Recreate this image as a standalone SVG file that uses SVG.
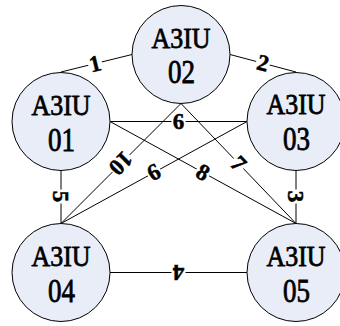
<svg xmlns="http://www.w3.org/2000/svg" width="340" height="326" viewBox="0 0 340 326">
<style>
.edge{stroke:#000;stroke-width:1;fill:none}
.node circle{fill:#e8edf7;stroke:#000;stroke-width:1}
.t1{font-family:"Liberation Serif",serif;font-size:30px;text-anchor:middle;fill:#000;stroke:#000;stroke-width:0.8}
.t2{font-family:"Liberation Serif",serif;font-size:33px;text-anchor:middle;fill:#000;stroke:#000;stroke-width:0.8}
.lbl rect{fill:#fff}
.lbl text{font-family:"Liberation Serif",serif;font-weight:bold;font-size:23px;text-anchor:middle;fill:#000;stroke:#000;stroke-width:0.5}
</style>
<rect width="340" height="326" fill="#fff"/>
<g id="connectors">
<line class="edge" x1="61" y1="72" x2="132" y2="54.5"/>
<line class="edge" x1="230" y1="54.5" x2="296" y2="72"/>
<line class="edge" x1="296" y1="170" x2="296" y2="223.5"/>
<line class="edge" x1="110" y1="272.5" x2="247" y2="272.5"/>
<line class="edge" x1="61" y1="170.5" x2="61" y2="223.5"/>
<line class="edge" x1="110" y1="121.5" x2="247" y2="121.5"/>
<line class="edge" x1="181" y1="103.5" x2="296" y2="223.5"/>
<line class="edge" x1="110" y1="121.5" x2="296" y2="223.5"/>
<line class="edge" x1="247" y1="121.5" x2="61" y2="223.5"/>
<line class="edge" x1="181" y1="103.5" x2="61" y2="223.5"/>
<g class="lbl" transform="translate(95,63.5) rotate(-13.5)"><rect x="-7" y="-8" width="14" height="16"/><text y="7.8">1</text></g>
<g class="lbl" transform="translate(263,63) rotate(14.5)"><rect x="-7" y="-8" width="14" height="16"/><text y="7.8">2</text></g>
<g class="lbl" transform="translate(296,196.5) rotate(90)"><rect x="-7" y="-8" width="14" height="16"/><text y="7.8">3</text></g>
<g class="lbl" transform="translate(178.5,272.5) rotate(180)"><rect x="-7" y="-8" width="14" height="16"/><text y="7.8">4</text></g>
<g class="lbl" transform="translate(61,196.5) rotate(90)"><rect x="-7" y="-8" width="14" height="16"/><text y="7.8">5</text></g>
<g class="lbl" transform="translate(178.5,121.5)"><rect x="-7" y="-8" width="14" height="16"/><text y="7.8">6</text></g>
<g class="lbl" transform="translate(238.5,163.5) rotate(46.2)"><rect x="-7" y="-8" width="14" height="16"/><text y="7.8">7</text></g>
<g class="lbl" transform="translate(203,172.2) rotate(28.7)"><rect x="-7" y="-8" width="14" height="16"/><text y="7.8">8</text></g>
<g class="lbl" transform="translate(154,172.5) rotate(151.3)"><rect x="-7" y="-8" width="14" height="16"/><text y="7.8">9</text></g>
<g class="lbl" transform="translate(121,163.5) rotate(135)"><rect x="-12" y="-8" width="24" height="16"/><text y="7.8">10</text></g>
</g>
<g id="node01" class="node"><circle cx="61" cy="121.5" r="49"/><text class="t1" x="61" y="114.5" textLength="59" lengthAdjust="spacingAndGlyphs">A3IU</text><text class="t2" x="61.5" y="150.5" textLength="27" lengthAdjust="spacingAndGlyphs">01</text></g>
<g id="node02" class="node"><circle cx="181" cy="54.5" r="49"/><text class="t1" x="181" y="47.5" textLength="59" lengthAdjust="spacingAndGlyphs">A3IU</text><text class="t2" x="181.5" y="83" textLength="27" lengthAdjust="spacingAndGlyphs">02</text></g>
<g id="node03" class="node"><circle cx="296" cy="121.5" r="49"/><text class="t1" x="296" y="114" textLength="59" lengthAdjust="spacingAndGlyphs">A3IU</text><text class="t2" x="296.5" y="149.5" textLength="27" lengthAdjust="spacingAndGlyphs">03</text></g>
<g id="node04" class="node"><circle cx="61" cy="272.5" r="49"/><text class="t1" x="61" y="265.5" textLength="59" lengthAdjust="spacingAndGlyphs">A3IU</text><text class="t2" x="61.5" y="301.5" textLength="27" lengthAdjust="spacingAndGlyphs">04</text></g>
<g id="node05" class="node"><circle cx="296" cy="272.5" r="49"/><text class="t1" x="296" y="265.5" textLength="59" lengthAdjust="spacingAndGlyphs">A3IU</text><text class="t2" x="296.5" y="301.5" textLength="27" lengthAdjust="spacingAndGlyphs">05</text></g>
</svg>
